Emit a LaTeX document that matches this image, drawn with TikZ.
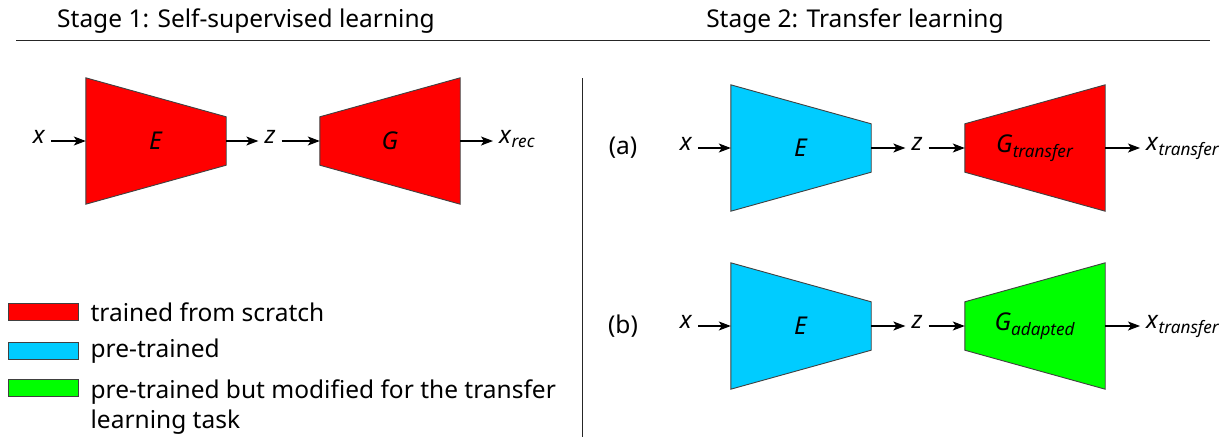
\documentclass[tikz,border=0pt]{standalone}
\usepackage{fontspec}
\setmainfont{Noto Sans}
\usetikzlibrary{positioning,calc,arrows.meta,backgrounds}
\definecolor{scratch}{RGB}{255,0,0}
\definecolor{pretrained}{RGB}{0,204,255}
\definecolor{modified}{RGB}{0,255,0}
\begin{document}
\begin{tikzpicture}[x=1pt,y=-1pt]
    \tikzstyle{every node}=[font=\fontsize{24.5}{30}\selectfont,inner sep=0]
    \tikzstyle{blk}=[minimum width=140,minimum height=126]
    \tikzstyle{var}=[inner sep=6,text height=1ex,text depth=0pt]
    \tikzstyle{part}=[draw=black!75,line width=0.9]
    \tikzstyle{flow}=[->,>={Stealth[length=12,width=9,inset=3]},line width=1.1]
    \tikzstyle{key}=[part,minimum width=70,minimum height=17]
    \useasboundingbox (0,0) rectangle (1221,437);
    {
        % headings and separators
        \node[anchor=base] (t1) at (246,27) {Stage 1: Self-supervised learning};
        \node[anchor=base] (t2) at (855,27) {Stage 2: Transfer learning};
        \draw[black!85,line width=0.9] (16,40) -- (1210,40);
        \draw[black!85,line width=0.9] (582,78) -- (582,437);

        % stage 1
        \node[var] (x1) at (39,141) {\textit{x}};
        \node[blk] (e1) at (156,141) {\textit{E}};
        \node[var] (z1) at (270,141) {\textit{z}};
        \node[blk] (g1) at (390,141) {\textit{G}};
        \node[var,anchor=west] (r1) at (493,141) {\textit{x}\textsubscript{\textit{rec}}};
        \path[flow]
            (x1) edge (e1)
            (e1) edge (z1)
            (z1) edge (g1)
            (g1) edge (r1);

        % stage 2 (a)
        \node (la) at (623,148) {(a)};
        \node[var] (x2) at (686,148) {\textit{x}};
        \node[blk] (e2) at (801,148) {\textit{E}};
        \node[var] (z2) at (917,148) {\textit{z}};
        \node[blk] (g2) at (1035,148) {\textit{G}\textsubscript{\textit{transfer}}};
        \node[var,anchor=west] (r2) at (1140,148) {\textit{x}\textsubscript{\textit{transfer}}};
        \path[flow]
            (x2) edge (e2)
            (e2) edge (z2)
            (z2) edge (g2)
            (g2) edge (r2);

        % stage 2 (b)
        \node (lb) at (623,326) {(b)};
        \node[var] (x3) at (686,326) {\textit{x}};
        \node[blk] (e3) at (801,326) {\textit{E}};
        \node[var] (z3) at (917,326) {\textit{z}};
        \node[blk] (g3) at (1035,326) {\textit{G}\textsubscript{\textit{adapted}}};
        \node[var,anchor=west] (r3) at (1140,326) {\textit{x}\textsubscript{\textit{transfer}}};
        \path[flow]
            (x3) edge (e3)
            (e3) edge (z3)
            (z3) edge (g3)
            (g3) edge (r3);

        % trapezoids behind the labels
        \begin{scope}[on background layer]
            \foreach \n/\c in {e1/scratch,e2/pretrained,e3/pretrained}
                \draw[part,fill=\c] (\n.north west) -- ($(\n.north east)+(0,39)$)
                    -- ($(\n.south east)+(0,-39)$) -- (\n.south west) -- cycle;
            \foreach \n/\c in {g1/scratch,g2/scratch,g3/modified}
                \draw[part,fill=\c] ($(\n.north west)+(0,39)$) -- (\n.north east)
                    -- (\n.south east) -- ($(\n.south west)+(0,-39)$) -- cycle;
        \end{scope}

        % legend
        \node[key,fill=scratch] (k1) at (43,312) {};
        \node[key,fill=pretrained] (k2) at (43,351) {};
        \node[key,fill=modified] (k3) at (43,388) {};
        \node[right=12 of k1] (k1t) {trained from scratch};
        \node[right=12 of k2] (k2t) {pre-trained};
        \node[right=12 of k3.north east,anchor=north west,align=left] (k3t)
            {pre-trained but modified for the transfer\\learning task};
    }
\end{tikzpicture}
\end{document}
